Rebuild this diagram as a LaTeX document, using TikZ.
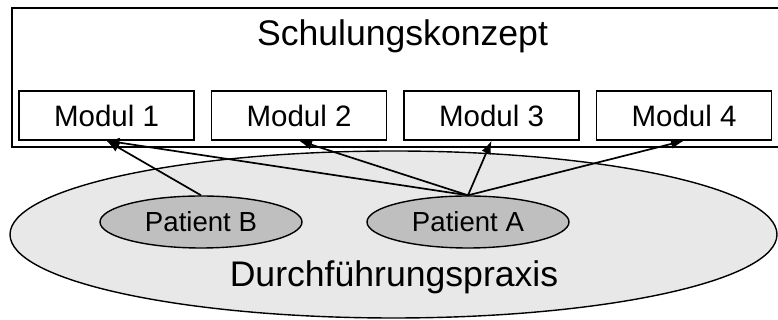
\documentclass[tikz,border=0pt]{standalone}
\usepackage{fontspec}
\setmainfont{Liberation Sans}
\usepackage{tikz}
\usetikzlibrary{shapes.geometric, arrows.meta, positioning}
\definecolor{praxisgray}{gray}{0.91}
\definecolor{patientgray}{gray}{0.75}
\tikzstyle{konzept} = [rectangle, minimum width=386.5pt, minimum height=69.5pt, draw=black, line width=1pt, inner sep=0pt]
\tikzstyle{modul} = [rectangle, minimum width=87.5pt, minimum height=24.5pt, text centered, draw=black, line width=0.7pt, font=\fontsize{14.75}{16}\selectfont]
\tikzstyle{praxis} = [ellipse, minimum width=383.5pt, minimum height=83.5pt, inner sep=0pt, draw=black, line width=0.7pt, fill=praxisgray]
\tikzstyle{patient} = [ellipse, minimum width=101pt, minimum height=26pt, inner sep=0pt, draw=black, line width=0.7pt, fill=patientgray, font=\fontsize{13.8}{15}\selectfont]
\tikzstyle{title} = [anchor=base, inner sep=0pt, font=\fontsize{17.8}{20}\selectfont]
\tikzstyle{arrow} = [line width=0.85pt,-{Latex[length=6.5pt,width=5pt]}]

\begin{document}
\begin{tikzpicture}[node distance=96.25pt]
\useasboundingbox (0,0) rectangle (389pt,160pt);

\node (praxis) [praxis] at (196.75pt,42.75pt) {};
\node (durchf) [title] at (197pt,16.65pt) {Durchführungspraxis};
\node (patientB) [patient] at (100.5pt,49pt) {Patient B};
\node (patientA) [patient] at (234pt,49pt) {Patient A};

\node (konzept) [konzept, anchor=north west] at (5.5pt,156.25pt) {};
\node (schulung) [title] at (201.25pt,137.15pt) {Schulungskonzept};
\node (modul1) [modul] at (53.25pt,102.25pt) {Modul 1};
\node (modul2) [modul, right of=modul1] {Modul 2};
\node (modul3) [modul, right of=modul2] {Modul 3};
\node (modul4) [modul, right of=modul3] {Modul 4};

\draw [arrow] (patientB.north) -- (modul1.south);
\draw [arrow] (patientA.north) -- (modul1.south);
\draw [arrow] (patientA.north) -- (modul2.south);
\draw [arrow] (patientA.north) -- (modul3.south);
\draw [arrow] (patientA.north) -- (modul4.south);

\end{tikzpicture}
\end{document}
